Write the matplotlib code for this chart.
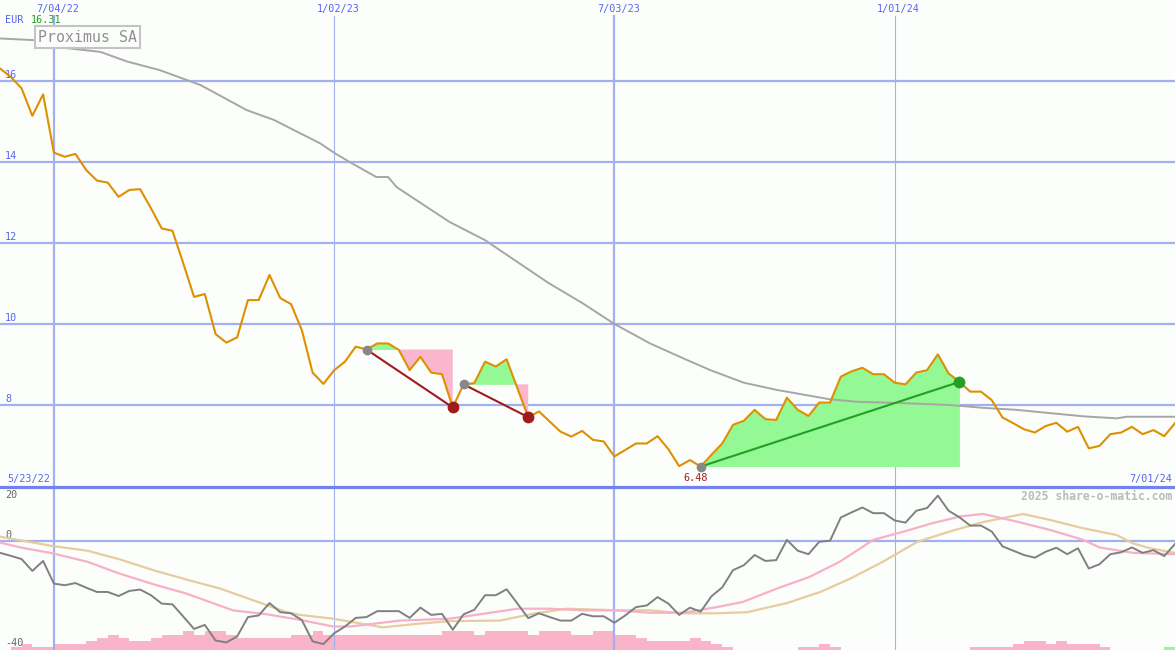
import matplotlib
matplotlib.use("Agg")
import matplotlib.pyplot as plt
import numpy as np

# weekly closes (EUR), one value per week, first week 5/30/22
price = [16.31, 16.10, 15.82, 15.14, 15.67, 14.23, 14.13, 14.20, 13.80, 13.54,
         13.49, 13.14, 13.31, 13.33, 12.86, 12.36, 12.30, 11.50, 10.67, 10.74,
         9.75, 9.54, 9.67, 10.59, 10.59, 11.21, 10.64, 10.49, 9.85, 8.80,
         8.52, 8.86, 9.07, 9.44, 9.37, 9.52, 9.52, 9.36, 8.86, 9.19,
         8.80, 8.76, 7.94, 8.51, 8.54, 9.07, 8.95, 9.13, 8.41, 7.70,
         7.84, 7.59, 7.34, 7.22, 7.36, 7.14, 7.10, 6.73, 6.89, 7.05,
         7.05, 7.23, 6.91, 6.49, 6.64, 6.48, 6.77, 7.05, 7.51, 7.61,
         7.88, 7.65, 7.63, 8.18, 7.88, 7.73, 8.06, 8.06, 8.70, 8.83,
         8.92, 8.76, 8.76, 8.55, 8.51, 8.80, 8.86, 9.25, 8.78, 8.57,
         8.33, 8.33, 8.12, 7.69, 7.55, 7.40, 7.32, 7.48, 7.56, 7.34,
         7.46, 6.93, 6.99, 7.28, 7.32, 7.46, 7.28, 7.38, 7.23, 7.55]

# long moving average (grey), read at these week positions
ma_weeks = [0, 3.1, 4.9, 9.3, 11.8, 14.8, 18.6, 22.9, 25.4, 29.7, 31.1, 32.5, 34.9,
            36.0, 36.8, 38.5, 41.7, 45.0, 48.0, 50.9, 54.0, 57.0, 60.3, 63.4, 65.9,
            69.0, 72.1, 77.0, 79.5, 84.4, 88.1, 91.2, 94.3, 97.4, 100.5, 103.6, 104.5, 109]
ma_values = [17.05, 17.01, 16.85, 16.72, 16.48, 16.27, 15.90, 15.28, 15.04, 14.46, 14.21,
             13.99, 13.63, 13.63, 13.38, 13.08, 12.52, 12.07, 11.53, 11.01, 10.52, 10.00,
             9.52, 9.15, 8.86, 8.55, 8.37, 8.14, 8.08, 8.04, 8.00, 7.93, 7.88, 7.80,
             7.72, 7.67, 7.71, 7.71]

# trades: (entry week, exit week)
trades = [(34, 42), (43, 49), (65, 89)]

# lower panel: oscillator, one value per week
osc = [-4.4, -5.5, -6.7, -11.1, -7.4, -15.8, -16.4, -15.6, -17.3, -18.9,
       -18.9, -20.4, -18.5, -18.0, -20.1, -23.2, -23.5, -28.0, -32.6, -31.1,
       -36.9, -37.6, -35.4, -28.2, -27.6, -23.0, -26.4, -26.8, -29.3, -37.2,
       -38.2, -34.2, -31.7, -28.5, -28.2, -26.0, -26.0, -26.0, -28.5, -24.7,
       -27.4, -27.0, -32.9, -27.2, -25.5, -20.1, -20.1, -17.9, -23.2, -28.6,
       -26.8, -28.2, -29.5, -29.5, -27.0, -27.9, -27.9, -30.3, -27.6, -24.5,
       -23.9, -20.8, -23.2, -27.4, -24.7, -26.2, -20.5, -17.2, -10.8, -9.0,
       -5.2, -7.4, -7.1, 0.4, -3.6, -4.9, -0.3, 0.1, 8.7, 10.6,
       12.4, 10.3, 10.3, 7.6, 6.8, 11.2, 12.2, 16.8, 11.2, 8.8,
       5.7, 5.7, 3.5, -2.0, -3.6, -5.2, -6.2, -4.0, -2.5, -4.9,
       -2.7, -10.2, -8.6, -4.9, -4.2, -2.4, -4.4, -3.4, -5.6, -1.1]

fast_weeks = [0, 1.9, 4.9, 8.1, 11.1, 14.2, 17.3, 21.6, 24.8, 27.8, 30.9, 32.5, 37.1,
              41.7, 44.8, 48.0, 51.0, 54.1, 57.2, 60.3, 63.4, 66.5, 68.9, 72.1, 75.1,
              77.9, 81.0, 83.5, 86.5, 89.1, 91.2, 94.3, 97.4, 100.5, 102.0, 105.1, 109]
fast_values = [-0.6, -2.4, -4.6, -7.7, -12.1, -16.0, -19.5, -25.7, -27.2, -29.2, -31.7,
               -31.7, -29.5, -28.8, -27.0, -25.1, -25.1, -25.7, -25.7, -26.6, -26.6,
               -24.5, -22.6, -17.6, -13.3, -7.7, 0.4, 3.1, 6.6, 9.1, 10.0, 7.2, 4.1,
               0.4, -2.4, -4.4, -4.9]

slow_weeks = [0, 4.9, 8.1, 11.1, 14.2, 17.3, 20.4, 23.5, 26.6, 27.8, 30.9, 35.5, 38.7,
              41.7, 46.4, 49.4, 52.6, 57.2, 60.3, 63.4, 66.5, 69.3, 73.0, 76.1, 78.9,
              81.9, 85.1, 88.1, 91.2, 94.9, 97.4, 100.5, 103.6, 105.1, 106.7, 109]
slow_values = [1.6, -1.9, -3.6, -6.8, -10.8, -14.3, -17.6, -22.0, -26.4, -27.4, -28.8,
               -32.0, -30.7, -29.7, -29.5, -27.0, -25.1, -25.7, -25.7, -26.8, -26.8,
               -26.4, -23.0, -18.9, -13.9, -7.7, -0.3, 3.5, 7.0, 10.0, 7.8, 4.7, 2.2,
               -0.9, -2.7, -4.4]

# weekly volume bars (relative)
volume = [0, 3, 6, 3, 3, 6, 6, 6, 9, 12, 15, 12, 9, 9, 12, 15, 15, 19, 15, 19,
          19, 15, 12, 12, 12, 12, 12, 15, 15, 19, 15, 15, 15, 15, 15, 15, 15, 15, 15, 15,
          15, 19, 19, 19, 15, 19, 19, 19, 19, 15, 19, 19, 19, 15, 15, 19, 19, 15, 15, 12,
          9, 9, 9, 9, 12, 9, 6, 3, 0, 0, 0, 0, 0, 0, 3, 3, 6, 3, 0, 0,
          0, 0, 0, 0, 0, 0, 0, 0, 0, 0, 3, 3, 3, 3, 6, 9, 9, 6, 9, 6,
          6, 6, 3, 0, 0, 0, 0, 0, 3, 0]
up_volume_weeks = [108]

tick_weeks = [5, 31, 57, 83]
tick_labels = ["7/04/22", "1/02/23", "7/03/23", "1/01/24"]
thick_ticks = [5, 57]
price_ticks = [16, 14, 12, 10, 8]
osc_ticks = [20, 0, -40]
start_label, end_label = "5/23/22", "7/01/24"
name, currency = "Proximus SA", "EUR"

BG = "#fcfefc"
GRID = "#a3b0f0"
BLUE = "#5566ee"
MONO = "DejaVu Sans Mono"

W, H = 1175, 650
fig = plt.figure(figsize=(W / 100, H / 100), dpi=100)
fig.patch.set_facecolor(BG)

ax = fig.add_axes([0, 163 / H, 1, 487 / H])
axv = fig.add_axes([0, 0, 1, 163 / H])
ax2 = fig.add_axes([0, 0, 1, 163 / H])
for a in (ax, axv, ax2):
    a.set_axis_off()
    a.set_xlim(0, 109)
ax.set_ylim(5.975, 18)
ax2.set_ylim(-40.4, 20)
axv.set_ylim(0, 163)

weeks = np.arange(len(price))
p = np.array(price)

# grid
for w in tick_weeks:
    lw = 1.6 if w in thick_ticks else 0.8
    ax.axvline(w, ymax=1 - 16 / 487, color=GRID, lw=lw, zorder=1)
    ax2.axvline(w, color=GRID, lw=lw, zorder=1)
    ax.annotate(tick_labels[tick_weeks.index(w)], (w, 1), xycoords=("data", "axes fraction"),
                xytext=(4, -9), textcoords="offset pixels", ha="center", va="center",
                color=BLUE, family=MONO, fontsize=7.3)
for v in price_ticks:
    ax.axhline(v, color=GRID, lw=1.6, zorder=1)
    ax.annotate(str(v), (0, v), xytext=(5, 1), textcoords="offset pixels",
                ha="left", va="bottom", color=BLUE, family=MONO, fontsize=7.3)
ax2.axhline(0, color=GRID, lw=1.6, zorder=1)
ax2.axhline(20, color="#7282ec", lw=2.3, zorder=5, clip_on=False)
for v, dy, va in zip(osc_ticks, (-3, 1, 1), ("top", "bottom", "bottom")):
    ax2.annotate(str(v), (0, v), xytext=(5, dy), textcoords="offset pixels",
                 ha="left", va=va, color="#666666", family=MONO, fontsize=7.3)

# trades
for e, x in trades:
    seg = weeks[e:x + 1]
    pp = p[e:x + 1]
    lvl = p[e]
    ax.fill_between(seg, pp, lvl, where=pp >= lvl, interpolate=True,
                    color="#94f894", lw=0, zorder=2)
    ax.fill_between(seg, pp, lvl, where=pp <= lvl, interpolate=True,
                    color="#fab6cc", lw=0, zorder=2)

ax.plot(ma_weeks, ma_values, color="#a6a6a6", lw=1.4, zorder=3)
ax.plot(weeks, p, color="#dd9000", lw=1.5, zorder=4)

for e, x in trades:
    win = p[x] > p[e]
    col = "#22a022" if win else "#a01c1c"
    ax.plot([e, x], [p[e], p[x]], color=col, lw=1.5, zorder=5)
    ax.plot(e, p[e], "o", color="#888888", ms=7, mec="none", zorder=6)
    ax.plot(x, p[x], "o", color=col, ms=8.5, mec="none", zorder=6)

lo = int(np.argmin(p))
ax.annotate(f"{p[lo]:.2f}", (lo, p[lo]), xytext=(-5, -11), textcoords="offset pixels",
            ha="center", va="center", color="#a01c1c", family=MONO, fontsize=7.3)

# lower panel
vcol = ["#94f894" if i in up_volume_weeks else "#f9b4c9" for i in range(len(volume))]
axv.bar(weeks, volume, width=1, align="edge", color=vcol, lw=0)
ax2.plot(slow_weeks, slow_values, color="#e6cc9e", lw=1.6, zorder=3)
ax2.plot(fast_weeks, fast_values, color="#f8b0c8", lw=1.6, zorder=3)
ax2.plot(weeks, osc, color="#808080", lw=1.4, zorder=4)

# header / footer texts
def fx(x):
    return x / W


def fy(y):
    return 1 - y / H


fig.text(fx(5), fy(20), currency, color=BLUE, family=MONO, fontsize=7.3, va="center")
fig.text(fx(31), fy(20), f"{price[0]:.2f}", color="#22a022", family=MONO, fontsize=7.3,
         va="center")
fig.text(fx(38), fy(37), name, color="#909090", family=MONO, fontsize=10.7, va="center",
         zorder=10,
         bbox=dict(boxstyle="square,pad=0.22", fc=BG, ec="#c4c4c4", lw=1.5))
fig.text(fx(7), fy(479), start_label, color=BLUE, family=MONO, fontsize=7.3, va="center")
fig.text(fx(1172), fy(479), end_label, color=BLUE, family=MONO, fontsize=7.3, va="center",
         ha="right")
fig.text(fx(1172), fy(496), "2025 share-o-matic.com", color="#bbbbbb", family=MONO,
         fontsize=8.3, fontweight="bold", va="center", ha="right")

fig.savefig("out.png", dpi=100, facecolor=BG)
